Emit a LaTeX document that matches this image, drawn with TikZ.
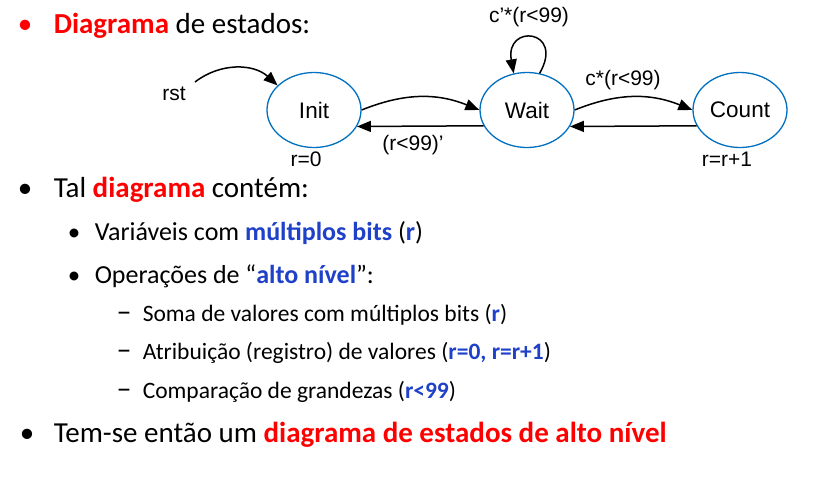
\documentclass[tikz,border=0pt]{standalone}
\usepackage{fontspec}
\setmainfont{Carlito}
\newfontfamily\arialfont{Liberation Sans}
\usepackage{xcolor}
\usetikzlibrary{positioning,shapes,arrows.meta}

\definecolor{slidered}{RGB}{255,0,0}
\definecolor{slideblue}{RGB}{31,64,200}
\definecolor{stateblue}{RGB}{0,112,192}

\newcommand{\hlred}[1]{\textbf{\textcolor{slidered}{#1}}}
\newcommand{\hlblue}[1]{\textbf{\textcolor{slideblue}{#1}}}

\begin{document}
\begin{tikzpicture}[x=1pt,y=-1pt,->,>={Triangle[length=14pt,width=11pt]},
                    line width=1.5pt,node distance=213pt]
  \tikzstyle{estado}=[ellipse,draw=stateblue,line width=1.3pt,inner sep=1pt,
                      minimum width=94pt,minimum height=75pt,text=black,
                      font=\arialfont\fontsize{22.5}{27}\selectfont]
  \tikzstyle{rotulo}=[inner sep=0pt,font=\arialfont\fontsize{21}{25}\selectfont]
  \tikzstyle{nivel1}=[anchor=base west,inner sep=0pt,font=\fontsize{29}{35}\selectfont]
  \tikzstyle{nivel2}=[anchor=base west,inner sep=0pt,font=\fontsize{26}{31}\selectfont]
  \tikzstyle{nivel3}=[anchor=base west,inner sep=0pt,font=\fontsize{23.5}{28}\selectfont]
  \tikzstyle{marca1}=[anchor=base,inner sep=0pt,font=\fontsize{29}{35}\selectfont]
  \tikzstyle{marca2}=[anchor=base,inner sep=0pt,font=\fontsize{25}{30}\selectfont]
  \tikzstyle{marca3}=[anchor=base,inner sep=0pt,font=\fontsize{30}{36}\selectfont]

  \useasboundingbox (0,0) rectangle (830,499);

  % state diagram
  \node[estado]            (Init)  at (314,110)   {Init};
  \node[estado]            (Wait)  [right of=Init] {Wait};
  \node[estado]            (Count) [right of=Wait] {Count};

  \node[rotulo]  (rst)     at (174,94)  {rst};
  \coordinate    (rstini)  at (195,82);
  \node[rotulo]  (ini0)    at (306,159) {r=0};
  \node[rotulo]  (incr)    at (727,159) {r=r+1};
  \node[rotulo]  (lbvolta) at (413,145) {(r<99)’};
  \node[rotulo]  (lbcont)  at (623,80)  {c*(r<99)};
  \node[rotulo]  (lbloop)  at (529,17)  {c’*(r<99)};

  \path (rstini)      edge [bend left=40] (Init.146)
        (Init.east)   edge [bend left=22] (Wait.west)
        (Wait.200.6)  edge                (Init.339.4)
        (Wait.east)   edge [bend left=22] (Count.west)
        (Count.200.6) edge                (Wait.339.4)
        (Wait.71)     edge [out=60,in=100,looseness=5] (Wait.110);

  % bullet text
  \node[marca1,text=slidered] (b1) at (25,33)  {•};
  \node[nivel1] (t1) at (53,33)  {\hlred{Diagrama} de estados:};
  \node[marca1] (b2) at (25,197) {•};
  \node[nivel1] (t2) at (53,197) {Tal \hlred{diagrama} contém:};
  \node[marca2] (b3) at (74,240) {•};
  \node[nivel2] (t3) at (94,240) {Variáveis com \hlblue{múltiplos bits} (\hlblue{r})};
  \node[marca2] (b4) at (74,283) {•};
  \node[nivel2] (t4) at (94,283) {Operações de “\hlblue{alto nível}”:};
  \node[marca3] (b5) at (124,321) {–};
  \node[nivel3] (t5) at (142,321) {Soma de valores com múltiplos bits (\hlblue{r})};
  \node[marca3] (b6) at (124,359) {–};
  \node[nivel3] (t6) at (142,359) {Atribuição (registro) de valores (\hlblue{r=0,} \hlblue{r=r+1})};
  \node[marca3] (b7) at (124,398) {–};
  \node[nivel3] (t7) at (142,398) {Comparação de grandezas (\hlblue{r<99})};
  \node[marca1] (b8) at (27,442) {•};
  \node[nivel1] (t8) at (53,442) {Tem-se então um \hlred{diagrama de estados de alto nível}};
\end{tikzpicture}
\end{document}
